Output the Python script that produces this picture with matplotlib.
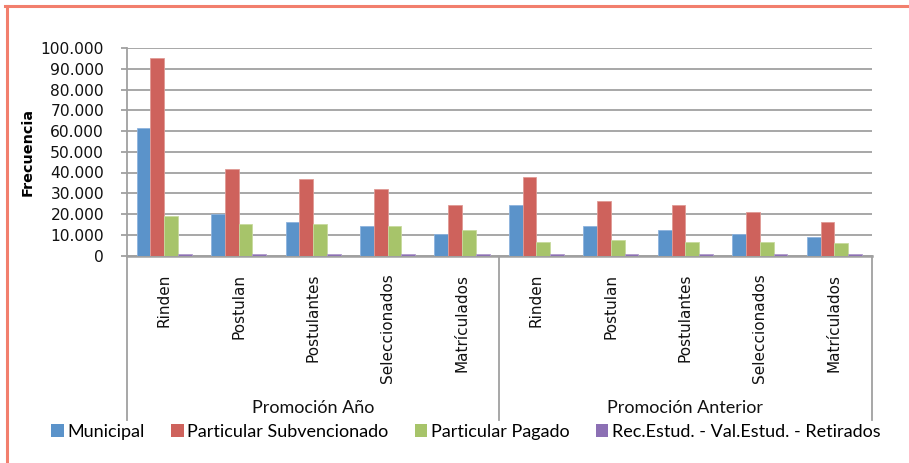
import matplotlib
matplotlib.use("Agg")
import matplotlib.pyplot as plt
import numpy as np
from matplotlib.lines import Line2D
from matplotlib.patches import Patch

categories = ["Rinden", "Postulan", "Postulantes", "Seleccionados", "Matrículados",
              "Rinden", "Postulan", "Postulantes", "Seleccionados", "Matrículados"]
groups = ["Promoción Año", "Promoción Anterior"]
series_names = ["Municipal", "Particular Subvencionado", "Particular Pagado",
                "Rec.Estud. - Val.Estud. - Retirados"]
municipal = [61400, 20000, 16200, 14300, 10600, 24500, 14300, 12500, 10600, 8700]
subvencionado = [95200, 41500, 36900, 32200, 24500, 37800, 26400, 24500, 20800, 16200]
pagado = [18900, 15200, 15200, 14300, 12300, 6700, 7700, 6700, 6700, 5800]
retirados = [800, 800, 800, 800, 800, 800, 800, 800, 800, 800]
yticks = list(range(0, 100001, 10000))
ytick_labels = ["0", "10.000", "20.000", "30.000", "40.000", "50.000",
                "60.000", "70.000", "80.000", "90.000", "100.000"]

colors = ["#5B93CA", "#CE625C", "#A7C46A", "#8C70B4"]
edges = ["#8DB3DE", "#E09A95", "#C8DA9E", "#B09CCB"]
series = [municipal, subvencionado, pagado, retirados]

W, H = 909, 463
fig = plt.figure(figsize=(W / 100, H / 100), dpi=100)
ax_left, ax_right, ax_top, ax_bot = 127, 871.5, 48, 255.5
ax = fig.add_axes([ax_left / W, (H - ax_bot) / H, (ax_right - ax_left) / W, (ax_bot - ax_top) / H])

n = len(categories)
x = np.arange(n)
bw = 0.185
for i, (vals, c, e) in enumerate(zip(series, colors, edges)):
    ax.bar(x - 1.5 * bw + i * bw, vals, width=bw, color=c, edgecolor=e, linewidth=0.6,
           zorder=3, label=series_names[i])

ax.set_xlim(-0.5, n - 0.5)
ax.set_ylim(0, 100000)
ax.set_yticks(yticks)
ax.set_yticklabels(ytick_labels, fontsize=11.2, family="DejaVu Sans", color="#111111")
ax.yaxis.grid(True, color="#A0A0A0", linewidth=1.3, zorder=0)
ax.set_axisbelow(True)
for s in ["top", "right"]:
    ax.spines[s].set_visible(False)
ax.spines["left"].set_color("#A0A0A0")
ax.spines["left"].set_linewidth(1.3)
ax.spines["bottom"].set_color("#A0A0A0")
ax.spines["bottom"].set_linewidth(1.8)
ax.tick_params(axis="y", length=4.5, width=1.3, color="#A0A0A0", pad=12)
ax.set_xticks(x)
ax.set_xticklabels(categories, rotation=90, fontsize=11, family="DejaVu Sans",
                   va="top", ha="center", color="#111111")
ax.tick_params(axis="x", length=0, pad=13)

ax.set_ylabel("Frecuencia", fontsize=10.4, fontweight="bold", family="DejaVu Sans")
ax.yaxis.set_label_coords((35 - ax_left) / (ax_right - ax_left), 0.5)

# group separators
ybot = -(420 - ax_bot) / (ax_bot - ax_top)
for xf in [0.0, 0.5, 1.0]:
    ax.add_line(Line2D([xf, xf], [0, ybot], transform=ax.transAxes, color="#A0A0A0",
                       linewidth=1.3, clip_on=False))
for gi, g in enumerate(groups):
    ax.text(0.25 + 0.5 * gi, -(408 - ax_bot) / (ax_bot - ax_top), g, transform=ax.transAxes,
            ha="center", va="center", fontsize=13, family="Lato", color="#111111")

handles = [Patch(facecolor=c, edgecolor="none") for c in colors]
fig.legend(handles, series_names, loc="center", bbox_to_anchor=(466 / W, (H - 432) / H),
           ncol=4, frameon=False, prop={"family": "Lato", "size": 13},
           handlelength=0.7, handleheight=0.7, handletextpad=0.2, columnspacing=1.45,
           borderaxespad=0, borderpad=0)

# outer border (top and left visible)
border = "#F27F6D"
fig.add_artist(Line2D([6.5 / W, 6.5 / W], [0, (H - 6) / H], transform=fig.transFigure,
                      color=border, linewidth=2.2))
fig.add_artist(Line2D([5.4 / W, 1], [(H - 6) / H, (H - 6) / H], transform=fig.transFigure,
                      color=border, linewidth=2.2))

fig.savefig("out.png", dpi=100)
